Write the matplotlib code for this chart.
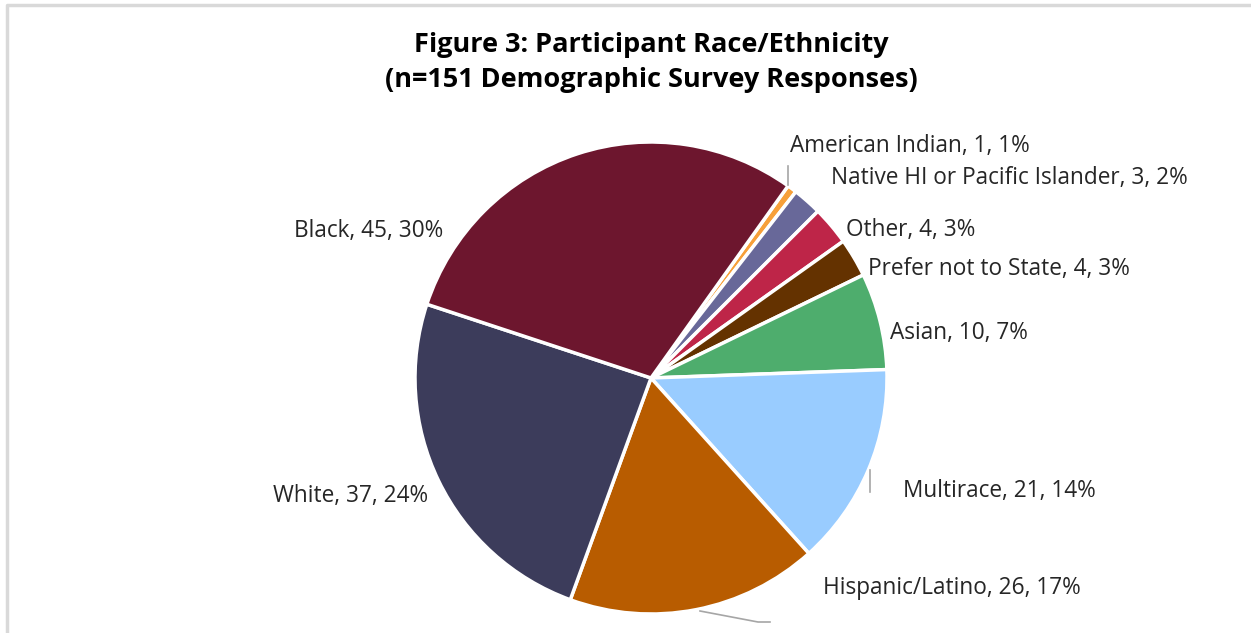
#Figure 3: participant race/ethnicity pie chart
import matplotlib.pyplot as plt

categorias = ['American Indian', 'Native HI or Pacific Islander', 'Other',
              'Prefer not to State', 'Asian', 'Multirace', 'Hispanic/Latino',
              'White', 'Black']
contagens = [1, 3, 4, 4, 10, 21, 26, 37, 45]
percentuais = ['1%', '2%', '3%', '3%', '7%', '14%', '17%', '24%', '30%']
cores = ['#F7A03A', '#686899', '#BE2548', '#643200', '#4EAD6D',
         '#99CCFF', '#B85C00', '#3C3C5B', '#6D162E']

# posicao (px) de cada rotulo: x, y, alinhamento
posRotulos = [(790, 146, 'left'), (831, 178, 'left'), (846, 230, 'left'),
              (868, 269, 'left'), (890, 333, 'left'), (903, 491, 'left'),
              (823, 588, 'left'), (428, 496, 'right'), (443, 231, 'right')]

W, H = 1251, 633
plt.rcParams['font.family'] = ['Open Sans', 'DejaVu Sans']

fig = plt.figure(figsize=(W / 100, H / 100), dpi=100)
ax = fig.add_axes([0, 0, 1, 1])

ax.pie(contagens, colors=cores, startangle=54.5, counterclock=False,
       center=(651, H - 378), radius=236,
       wedgeprops=dict(edgecolor='white', linewidth=2.5))

# a pizza mexe nos limites, entao fixa depois
ax.set_xlim(0, W)
ax.set_ylim(0, H)
ax.set_aspect('equal')
ax.axis('off')

for nome, n, p, (x, y, al) in zip(categorias, contagens, percentuais, posRotulos):
    ax.text(x, H - y, f'{nome}, {n}, {p}', ha=al, va='center',
            fontsize=16.3, color='#262626')

# linhas de chamada
cinza = '#A6A6A6'
ax.plot([788, 788], [H - 166, H - 185], color=cinza, lw=1.2)
ax.plot([870, 870], [H - 470, H - 492], color=cinza, lw=1.2)
ax.plot([700, 758, 770], [H - 611, H - 622, H - 622], color=cinza, lw=1.2)

ax.text(651, H - 45, 'Figure 3: Participant Race/Ethnicity', ha='center',
        va='center', fontsize=19.5, fontweight='bold', color='black')
ax.text(651, H - 80, '(n=151 Demographic Survey Responses)', ha='center',
        va='center', fontsize=19.5, fontweight='bold', color='black')

# borda cinza do grafico
ax.plot([7, 7, W], [0, H - 5, H - 5], color='#D9D9D9', lw=2.5)

fig.savefig('out.png', dpi=100)
